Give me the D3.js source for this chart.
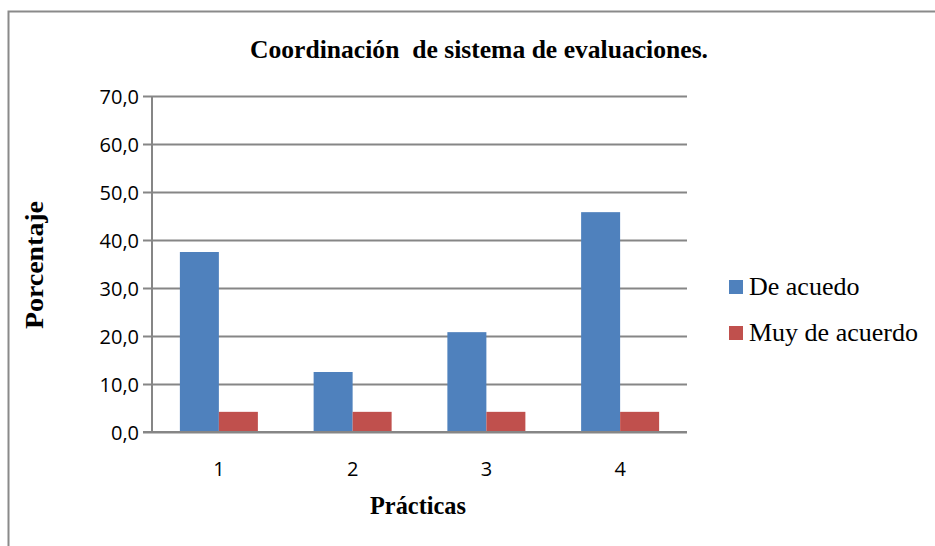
<!DOCTYPE html>
<html>
<head>
<meta charset="utf-8">
<script src="https://cdn.jsdelivr.net/npm/d3@7"></script>
<style>
  html, body { margin: 0; padding: 0; background: #fff; }
  svg { display: block; }
</style>
</head>
<body>
<svg id="chart" width="935" height="546"></svg>
<script>
// Chart data
const categories = ["1", "2", "3", "4"];
const seriesNames = ["De acuedo", "Muy de acuerdo"];
const deAcuedo = [37.5, 12.5, 20.8, 45.8];
const muyDeAcuerdo = [4.2, 4.2, 4.2, 4.2];
const yTicks = [0, 10, 20, 30, 40, 50, 60, 70];
const colors = ["#4F81BD", "#C0504D"];

const seriesValues = [deAcuedo, muyDeAcuerdo];
const rows = categories.map((c, i) => ({
  cat: c,
  vals: seriesNames.map((s, k) => ({ key: s, value: seriesValues[k][i], color: colors[k] }))
}));

const svg = d3.select("#chart");
const W = 935, H = 546;
const plot = { left: 152, right: 687, top: 96, bottom: 432 };
const sansFont = "'Open Sans', Lato, sans-serif";
const serifFont = "'Liberation Serif', 'Times New Roman', serif";

// Outer chart frame (top and left edges visible)
svg.append("path")
  .attr("d", `M8.5,${H} V11.5 H${W}`)
  .attr("fill", "none")
  .attr("stroke", "#8a8a8a")
  .attr("stroke-width", 2);

const x = d3.scaleBand().domain(categories).range([plot.left, plot.right]);
const groupW = 78;
const xs = d3.scaleBand().domain(seriesNames).range([0, groupW]);
const y = d3.scaleLinear().domain([0, 70]).range([plot.bottom, plot.top]);

// Horizontal gridlines with small outward ticks
const yAxis = d3.axisLeft(y)
  .tickValues(yTicks)
  .tickSize(-(plot.right - plot.left))
  .tickPadding(13)
  .tickFormat(d => d3.format(".1f")(d).replace(".", ","));

const gy = svg.append("g")
  .attr("transform", `translate(${plot.left},0)`)
  .call(yAxis);
gy.select(".domain").remove();
gy.selectAll(".tick line")
  .attr("x1", -9)
  .attr("stroke", "#868686")
  .attr("stroke-width", 2);
gy.selectAll(".tick text")
  .attr("fill", "#000")
  .attr("dy", "0.36em")
  .style("font-family", sansFont)
  .style("font-size", "20px");

// Vertical axis line
svg.append("line")
  .attr("x1", plot.left).attr("x2", plot.left)
  .attr("y1", plot.top).attr("y2", plot.bottom)
  .attr("stroke", "#868686").attr("stroke-width", 2);

// Bars
const groups = svg.append("g").selectAll("g")
  .data(rows).join("g")
  .attr("transform", d => `translate(${x(d.cat) + (x.bandwidth() - groupW) / 2},0)`);
groups.selectAll("rect")
  .data(d => d.vals).join("rect")
  .attr("x", d => xs(d.key))
  .attr("width", xs.bandwidth())
  .attr("y", d => y(d.value))
  .attr("height", d => y(0) - y(d.value))
  .attr("fill", d => d.color);

// Baseline drawn over bars
svg.append("line")
  .attr("x1", plot.left - 9).attr("x2", plot.right)
  .attr("y1", y(0)).attr("y2", y(0))
  .attr("stroke", "#868686").attr("stroke-width", 2);

// Category labels
const xAxis = d3.axisBottom(x).tickSize(0).tickPadding(30);
const gx = svg.append("g").attr("transform", `translate(0,${plot.bottom})`).call(xAxis);
gx.select(".domain").remove();
gx.selectAll(".tick text")
  .attr("fill", "#000")
  .style("font-family", sansFont)
  .style("font-size", "20px");

// Titles
svg.append("text")
  .attr("x", 479).attr("y", 58)
  .attr("text-anchor", "middle")
  .attr("textLength", 458)
  .attr("lengthAdjust", "spacingAndGlyphs")
  .style("white-space", "pre")
  .style("font-family", serifFont)
  .style("font-weight", "bold")
  .style("font-size", "26px")
  .text("Coordinación  de sistema de evaluaciones.");

svg.append("text")
  .attr("x", 418).attr("y", 514)
  .attr("text-anchor", "middle")
  .attr("textLength", 96)
  .attr("lengthAdjust", "spacingAndGlyphs")
  .style("font-family", serifFont)
  .style("font-weight", "bold")
  .style("font-size", "25px")
  .text("Prácticas");

svg.append("text")
  .attr("transform", "translate(43,265) rotate(-90)")
  .attr("text-anchor", "middle")
  .attr("textLength", 128)
  .attr("lengthAdjust", "spacingAndGlyphs")
  .style("font-family", serifFont)
  .style("font-weight", "bold")
  .style("font-size", "25px")
  .text("Porcentaje");

// Legend
const legend = svg.append("g").selectAll("g")
  .data(seriesNames).join("g")
  .attr("transform", (d, i) => `translate(729,${280 + i * 46})`);
legend.append("rect")
  .attr("width", 14).attr("height", 14)
  .attr("fill", (d, i) => colors[i]);
legend.append("text")
  .attr("x", 20).attr("y", 15)
  .style("font-family", serifFont)
  .style("font-size", "26px")
  .text(d => d);
</script>
</body>
</html>
